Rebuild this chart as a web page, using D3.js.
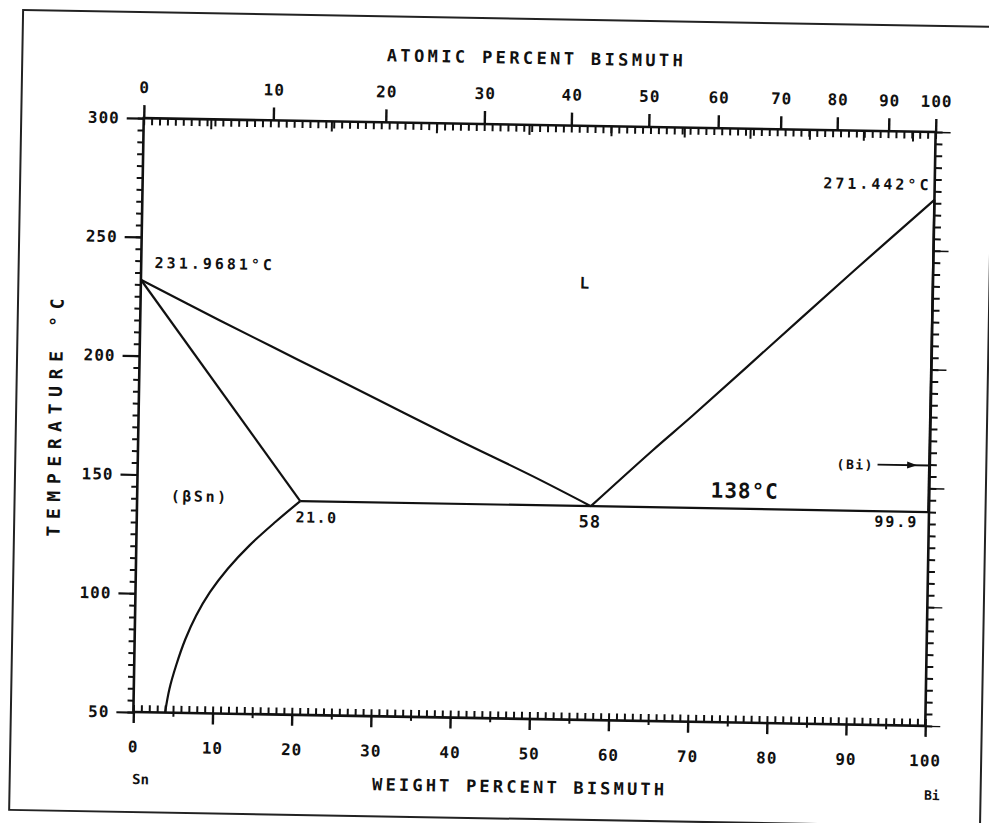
<!DOCTYPE html>
<html>
<head>
<meta charset="utf-8">
<script src="https://cdn.jsdelivr.net/npm/d3@7"></script>
<style>
  body { margin: 0; background: #fff; }
  text { font-family: "DejaVu Sans Mono", monospace; font-weight: bold; fill: #111; }
</style>
</head>
<body>
<script>
// chart values
const wtTicks = [0, 10, 20, 30, 40, 50, 60, 70, 80, 90, 100];
const atTicks = [0, 10, 20, 30, 40, 50, 60, 70, 80, 90, 100];
const tempTicks = [50, 100, 150, 200, 250, 300];

const liquidusSn = [[0, 231.97], [10, 215.5], [20, 199.5], [30, 183.5], [40, 167.5], [50, 152], [57.3, 140]];
const liquidusBi = [[57.3, 140], [65, 164], [70, 179], [80, 210], [90, 241], [100, 271.44]];
const solidusSn = [[0, 231.97], [20.6, 140]];
const solvusSn = [[20.6, 140], [17.5, 131], [14.3, 121], [11.6, 111], [9.4, 101], [7.7, 91], [6.4, 81], [5.3, 70], [4.5, 60], [4.0, 50]];
const eutectic = [[20.6, 140], [99.9, 140]];
const solidusBi = [[99.9, 140], [100, 271.44]];

// weights for at% -> wt% conversion
const massBi = 208.98, massSn = 118.71;
function atToWt(a) {
    return 100 * a * massBi / (a * massBi + (100 - a) * massSn);
}

const w = 989, h = 823;
const plotLeft = 138.5, plotRight = 930.5, plotTop = 125, plotBottom = 719;

const svg = d3.select("body").append("svg")
    .attr("width", w)
    .attr("height", h);

// the scan is tilted a little, so the whole figure gets rotated
const g = svg.append("g").attr("transform", "rotate(1, 534.5, 422)");

g.append("rect")
    .attr("x", 16).attr("y", 19)
    .attr("width", 971).attr("height", 800)
    .attr("fill", "none").attr("stroke", "#222").attr("stroke-width", 2);

const x = d3.scaleLinear().domain([0, 100]).range([plotLeft, plotRight]);
const y = d3.scaleLinear().domain([50, 300]).range([plotBottom, plotTop]);
// piecewise scale for the atomic percent axis on top
const atFine = d3.range(0, 101, 5);
const xAt = d3.scaleLinear().domain(atFine).range(atFine.map(a => x(atToWt(a))));

function styleAxis(sel, width) {
    sel.select(".domain").remove();
    sel.selectAll("line").attr("stroke", "#111").attr("stroke-width", width);
    sel.selectAll("text").style("font-size", "16px").style("letter-spacing", "1px").attr("fill", "#111");
}

// bottom: weight percent
g.append("g").attr("transform", `translate(0,${plotBottom})`)
    .call(d3.axisBottom(x).tickValues(d3.range(0, 101, 1)).tickSize(-7).tickSizeOuter(0).tickFormat(""))
    .call(s => styleAxis(s, 2));
g.append("g").attr("transform", `translate(0,${plotBottom})`)
    .call(d3.axisBottom(x).tickValues(d3.range(5, 100, 10)).tickSize(4).tickSizeOuter(0).tickFormat(""))
    .call(s => styleAxis(s, 2));
g.append("g").attr("transform", `translate(0,${plotBottom})`)
    .call(d3.axisBottom(x).tickValues(wtTicks).tickSize(11).tickPadding(18).tickSizeOuter(0))
    .call(s => styleAxis(s, 2.4));

// top: minor weight ticks inside, atomic percent labels outside
g.append("g").attr("transform", `translate(0,${plotTop})`)
    .call(d3.axisTop(x).tickValues(d3.range(0, 101, 1)).tickSize(-7).tickSizeOuter(0).tickFormat(""))
    .call(s => styleAxis(s, 2));
g.append("g").attr("transform", `translate(0,${plotTop})`)
    .call(d3.axisTop(xAt).tickValues(d3.range(5, 100, 10)).tickSize(-10).tickSizeOuter(0).tickFormat(""))
    .call(s => styleAxis(s, 2));
g.append("g").attr("transform", `translate(0,${plotTop})`)
    .call(d3.axisTop(xAt).tickValues(atTicks).tickSize(13).tickPadding(12).tickSizeOuter(0))
    .call(s => styleAxis(s, 2.4));

// left: temperature
g.append("g").attr("transform", `translate(${plotLeft},0)`)
    .call(d3.axisLeft(y).tickValues(d3.range(50, 301, 5)).tickSize(6).tickSizeOuter(0).tickFormat(""))
    .call(s => styleAxis(s, 2));
g.append("g").attr("transform", `translate(${plotLeft},0)`)
    .call(d3.axisLeft(y).tickValues(tempTicks).tickSize(17).tickPadding(7).tickSizeOuter(0))
    .call(s => styleAxis(s, 2.2));

// right: ticks only
g.append("g").attr("transform", `translate(${plotRight},0)`)
    .call(d3.axisRight(y).tickValues(d3.range(50, 301, 5)).tickSize(7).tickSizeOuter(0).tickFormat(""))
    .call(s => styleAxis(s, 2));
g.append("g").attr("transform", `translate(${plotRight},0)`)
    .call(d3.axisRight(y).tickValues(tempTicks).tickSize(15).tickSizeOuter(0).tickFormat(""))
    .call(s => styleAxis(s, 1.4));

// plot frame
g.append("rect")
    .attr("x", plotLeft).attr("y", plotTop)
    .attr("width", plotRight - plotLeft).attr("height", plotBottom - plotTop)
    .attr("fill", "none").attr("stroke", "#111").attr("stroke-width", 2.6);

// axis titles
g.append("text")
    .attr("x", (plotLeft + plotRight) / 2 - 6).attr("y", 64)
    .attr("text-anchor", "middle")
    .attr("textLength", 296).attr("lengthAdjust", "spacing")
    .style("font-size", "17px")
    .text("ATOMIC PERCENT BISMUTH");
g.append("text")
    .attr("x", (plotLeft + plotRight) / 2 - 10).attr("y", 793)
    .attr("text-anchor", "middle")
    .attr("textLength", 292).attr("lengthAdjust", "spacing")
    .style("font-size", "17px")
    .text("WEIGHT PERCENT BISMUTH");
g.append("text")
    .attr("transform", `translate(${plotLeft - 77},${(plotTop + plotBottom) / 2 + 4}) rotate(-90)`)
    .attr("text-anchor", "middle")
    .attr("textLength", 238).attr("lengthAdjust", "spacing")
    .style("font-size", "18px")
    .text("TEMPERATURE °C");

g.append("text").attr("x", x(0)).attr("y", plotBottom + 72)
    .style("font-size", "14px").attr("text-anchor", "start").text("Sn");
g.append("text").attr("x", x(101)).attr("y", plotBottom + 74)
    .style("font-size", "13px").attr("text-anchor", "middle").text("Bi");

// phase boundaries
const curve = d3.line().x(d => x(d[0])).y(d => y(d[1])).curve(d3.curveCatmullRom);
const straight = d3.line().x(d => x(d[0])).y(d => y(d[1]));

[liquidusSn, liquidusBi, solvusSn].forEach(pts => {
    g.append("path")
        .attr("d", curve(pts))
        .attr("fill", "none").attr("stroke", "#111").attr("stroke-width", 2.2);
});
[solidusSn, eutectic, solidusBi].forEach(pts => {
    g.append("path")
        .attr("d", straight(pts))
        .attr("fill", "none").attr("stroke", "#111").attr("stroke-width", 2.2);
});

// labels on the diagram
const labels = [
    { t: "231.9681°C", wt: 1.7, temp: 237, size: 15, ls: 3, anchor: "start" },
    { t: "271.442°C", wt: 99.6, temp: 275.5, size: 15, ls: 3, anchor: "end" },
    { t: "L", wt: 56, temp: 231.5, size: 16, ls: 0, anchor: "middle" },
    { t: "(βSn)", wt: 7.9, temp: 139, size: 15, ls: 2.5, anchor: "middle" },
    { t: "21.0", wt: 22.7, temp: 131, size: 15, ls: 1.5, anchor: "middle" },
    { t: "58", wt: 57.2, temp: 131, size: 17, ls: 1, anchor: "middle" },
    { t: "138°C", wt: 76.7, temp: 144.5, size: 21, ls: 1, anchor: "middle" },
    { t: "99.9", wt: 95.9, temp: 133.5, size: 15, ls: 2, anchor: "middle" },
    { t: "(Bi)", wt: 90.6, temp: 157.5, size: 13, ls: 1.5, anchor: "middle" }
];
g.selectAll(".lab")
    .data(labels)
    .enter()
    .append("text")
    .attr("class", "lab")
    .attr("x", d => x(d.wt))
    .attr("y", d => y(d.temp))
    .attr("text-anchor", d => d.anchor)
    .style("font-size", d => d.size + "px")
    .style("letter-spacing", d => d.ls + "px")
    .text(d => d.t);

// arrow from (Bi) to the right axis
g.append("line")
    .attr("x1", x(93.4)).attr("x2", x(100))
    .attr("y1", y(159.6)).attr("y2", y(159.6))
    .attr("stroke", "#111").attr("stroke-width", 1.8);
g.append("path")
    .attr("d", `M${x(98.4)},${y(159.6)} l-10,-3.5 l0,7 z`)
    .attr("fill", "#111");
</script>
</body>
</html>
